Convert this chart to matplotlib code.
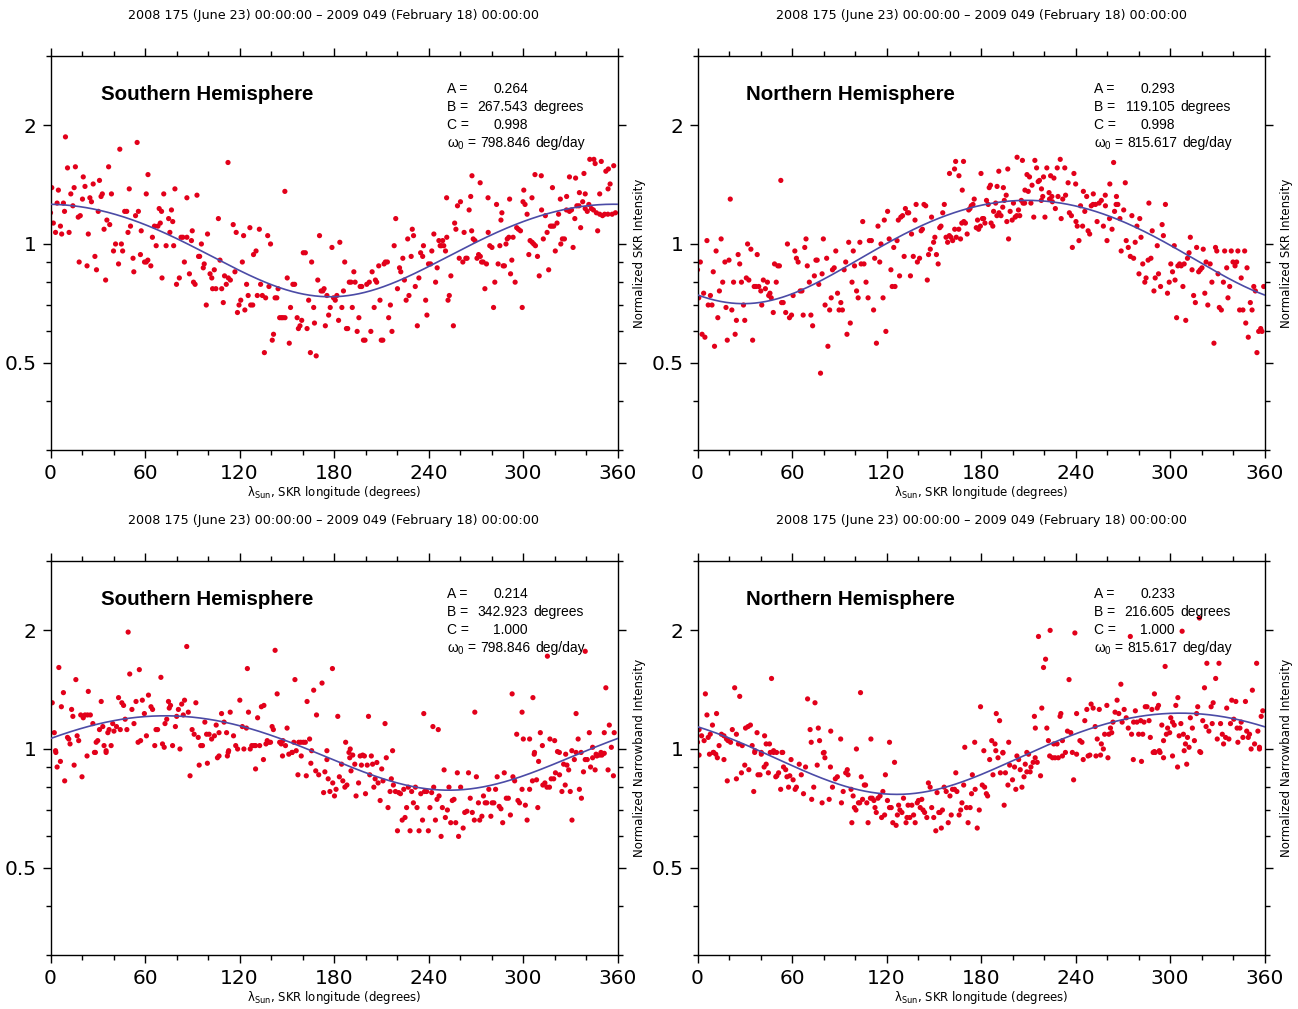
import numpy as np
import matplotlib
matplotlib.use('Agg')
import matplotlib.pyplot as plt
from matplotlib.ticker import NullFormatter

plt.rcParams['font.family'] = ['DejaVu Sans']
plt.rcParams['mathtext.default'] = 'regular'

# time span shown above every panel
period = '2008 175 (June 23) 00:00:00 \u2013 2009 049 (February 18) 00:00:00'
hemispheres = ['Southern Hemisphere', 'Northern Hemisphere',
               'Southern Hemisphere', 'Northern Hemisphere']
ylabels = ['Normalized SKR Intensity', 'Normalized SKR Intensity',
           'Normalized Narrowband Intensity', 'Normalized Narrowband Intensity']
x_ticks = [0, 60, 120, 180, 240, 300, 360]
y_ticks = [0.5, 1, 2]
y_tick_labels = ['0.5', '1', '2']
y_minor = [0.3, 0.4, 0.6, 0.7, 0.8, 0.9, 3]

# fit parameters: I = C * (1 + A sin(lambda - B))
fit_a = [0.264, 0.293, 0.214, 0.233]
fit_b = [267.543, 119.105, 342.923, 216.605]
fit_c = [0.998, 0.998, 1.000, 1.000]
omega0 = [798.846, 815.617, 798.846, 815.617]

# (SKR longitude in degrees, normalized intensity)
skr_south = np.array([
    [9.5, 1.87], [10.8, 1.56], [15.8, 1.57], [0.8, 1.39], [5.0, 1.37], [12.9, 1.34], [15.0, 1.39],
    [20.8, 1.48], [21.9, 1.40], [27.1, 1.42], [31.1, 1.45], [36.9, 1.57], [44.0, 1.74], [55.0, 1.81],
    [32.1, 1.32], [32.9, 1.34], [38.7, 1.34], [50.0, 1.38], [60.8, 1.34], [61.9, 1.50], [71.9, 1.34],
    [79.0, 1.38], [86.6, 1.31], [93.0, 1.33], [112.7, 1.61], [148.8, 1.36], [251.5, 1.31], [266.8, 1.32],
    [267.6, 1.49], [272.8, 1.43], [277.8, 1.31], [300.5, 1.37], [307.6, 1.50], [311.6, 1.49], [318.7, 1.39],
    [329.5, 1.48], [333.4, 1.47], [338.7, 1.51], [342.4, 1.64], [345.0, 1.64], [345.8, 1.60], [349.7, 1.62],
    [352.6, 1.53], [354.2, 1.55], [357.6, 1.58], [355.3, 1.42], [354.0, 1.38], [348.7, 1.34], [335.8, 1.35],
    [339.5, 1.34], [327.7, 1.32], [323.7, 1.30], [305.7, 1.31], [291.5, 1.30], [25.0, 1.31], [20.3, 1.30],
    [0.0, 1.20], [1.8, 1.13], [3.2, 1.07], [4.2, 1.27], [6.3, 1.11], [7.1, 1.06], [8.2, 1.27], [8.9, 1.21],
    [11.8, 1.07], [14.2, 1.25], [17.6, 1.17], [18.9, 1.18], [18.2, 0.90], [23.2, 0.88], [24.0, 1.06],
    [26.0, 1.28], [28.2, 0.93], [29.2, 0.86], [30.3, 1.21], [34.0, 1.09], [35.0, 0.81], [35.8, 1.15],
    [37.6, 1.12], [40.0, 0.96], [41.3, 1.00], [43.2, 0.89], [45.0, 1.00], [45.8, 0.96], [47.1, 1.21],
    [48.4, 1.21], [49.2, 1.07], [50.8, 1.11], [52.4, 0.92], [52.9, 0.85], [54.0, 1.18], [55.8, 1.21],
    [57.6, 1.08], [57.1, 0.94], [59.7, 0.90], [60.8, 0.90], [61.8, 0.91], [63.7, 0.88], [64.7, 1.04],
    [66.0, 1.11], [67.1, 0.99], [68.2, 1.11], [69.0, 1.23], [69.7, 1.13], [70.5, 1.21], [70.8, 0.82],
    [73.4, 0.99], [75.0, 1.16], [75.8, 1.07], [76.8, 1.22], [77.6, 1.14], [78.2, 0.99], [80.0, 0.79],
    [81.8, 0.82], [82.9, 1.04], [84.0, 1.04], [85.0, 0.90], [86.6, 1.04], [88.2, 0.84], [89.5, 1.02],
    [90.0, 1.08], [90.8, 0.80], [91.8, 0.79], [94.0, 0.93], [94.7, 0.93], [95.8, 1.00], [97.0, 0.87],
    [97.6, 0.89], [98.9, 0.70], [99.7, 1.06], [101.3, 0.84], [102.4, 0.82], [102.9, 0.77], [104.0, 0.86],
    [105.0, 0.77], [106.6, 1.16], [107.6, 0.91], [108.7, 0.77], [109.7, 0.71], [110.5, 0.83], [111.6, 0.79],
    [112.9, 0.82], [114.2, 0.81], [116.0, 1.12], [117.1, 0.85], [117.9, 1.07], [118.7, 0.67], [119.7, 0.70],
    [120.8, 0.72], [121.8, 0.90], [122.6, 1.05], [123.4, 0.68], [124.5, 0.79], [125.5, 0.74], [126.6, 1.10],
    [127.1, 0.70], [128.4, 0.70], [128.9, 0.94], [130.5, 0.96], [131.3, 0.74], [132.6, 1.09], [133.4, 0.79],
    [134.5, 0.74], [135.8, 0.53], [136.6, 0.73], [137.9, 1.05], [138.7, 0.78], [139.7, 1.00], [140.8, 0.57],
    [141.6, 0.59], [142.6, 0.73], [143.7, 0.73], [144.5, 0.77], [145.5, 0.65], [146.6, 0.65], [147.6, 0.65],
    [148.9, 0.65], [150.3, 0.82], [151.6, 0.56], [152.4, 0.69], [153.9, 0.79], [155.0, 0.79], [156.6, 0.65],
    [157.4, 0.61], [158.4, 0.62], [159.5, 0.64], [160.5, 0.95], [161.8, 0.95], [162.9, 0.61], [163.9, 0.72],
    [165.0, 0.53], [165.8, 0.90], [167.1, 0.69], [167.6, 0.63], [168.7, 0.52], [169.7, 0.81], [170.8, 1.05],
    [171.8, 0.76], [172.9, 0.76], [173.7, 0.77], [174.5, 0.62], [175.5, 0.74], [176.6, 0.66], [177.6, 0.69],
    [178.7, 0.98], [179.7, 0.73], [180.8, 0.72], [181.8, 0.74], [182.9, 0.64], [183.7, 1.01], [185.0, 0.69],
    [186.0, 0.76], [186.8, 0.90], [187.9, 0.61], [188.7, 0.61], [189.7, 0.80], [190.8, 0.80], [191.6, 0.69],
    [192.6, 0.85], [193.4, 0.80], [194.7, 0.60], [195.8, 0.65], [196.6, 0.78], [197.6, 0.78], [198.7, 0.57],
    [199.7, 0.57], [200.8, 0.79], [202.4, 0.80], [203.4, 0.60], [204.2, 0.85], [205.5, 0.69], [206.3, 0.81],
    [207.1, 0.80], [208.4, 0.88], [209.2, 0.72], [210.0, 0.57], [211.0, 0.57], [211.8, 0.89], [212.6, 0.90],
    [213.9, 0.90], [214.7, 0.65], [215.8, 0.70], [216.8, 0.60], [218.2, 0.99], [219.2, 1.16], [220.3, 0.77],
    [221.6, 0.87], [222.4, 0.85], [223.7, 0.92], [224.7, 0.81], [225.8, 0.72], [226.8, 1.03], [227.6, 0.74],
    [229.0, 0.93], [229.7, 1.09], [230.5, 1.05], [231.6, 0.78], [232.9, 0.62], [233.9, 0.82], [235.0, 0.95],
    [236.3, 0.93], [236.8, 0.99], [238.2, 0.72], [239.0, 0.66], [240.0, 0.89], [241.3, 0.89], [242.1, 0.96],
    [243.4, 1.06], [244.5, 0.80], [245.5, 0.87], [246.6, 1.02], [247.4, 0.99], [248.2, 0.99], [249.0, 1.02],
    [249.7, 0.99], [250.8, 0.96], [251.6, 1.04], [252.4, 0.72], [253.2, 0.74], [254.2, 0.83], [255.8, 0.62],
    [256.6, 1.13], [257.4, 1.09], [258.4, 1.25], [259.5, 0.92], [260.3, 1.28], [261.8, 0.90], [262.6, 1.07],
    [263.7, 0.92], [264.5, 0.92], [265.8, 1.22], [267.4, 1.08], [268.4, 1.03], [269.5, 1.02], [270.8, 0.92],
    [271.8, 0.94], [272.9, 0.93], [273.7, 0.90], [274.7, 0.90], [275.8, 0.77], [276.8, 0.89], [277.9, 1.07],
    [278.9, 0.99], [280.3, 0.98], [281.3, 0.69], [282.1, 0.80], [283.2, 1.26], [284.2, 0.89], [285.3, 0.99],
    [286.0, 1.15], [286.6, 1.20], [287.4, 0.88], [288.2, 0.88], [289.2, 1.00], [290.0, 1.03], [291.0, 1.04],
    [292.1, 0.84], [292.9, 0.91], [293.7, 1.04], [295.0, 0.80], [296.0, 1.10], [297.1, 1.09], [298.4, 1.08],
    [299.5, 0.69], [300.0, 1.28], [301.3, 1.26], [302.6, 1.19], [303.7, 0.94], [304.5, 1.02], [305.8, 1.01],
    [306.8, 1.00], [307.9, 0.99], [309.2, 0.93], [310.3, 0.83], [311.8, 1.22], [312.9, 1.03], [314.2, 1.18],
    [315.3, 1.07], [316.3, 0.86], [317.4, 1.11], [318.4, 1.11], [319.5, 1.11], [320.5, 0.96], [321.6, 1.13],
    [322.6, 1.19], [324.0, 1.00], [325.0, 1.03], [326.3, 1.03], [327.6, 1.22], [329.5, 1.21], [330.8, 1.22],
    [331.8, 0.98], [332.9, 1.16], [334.2, 1.25], [335.5, 1.25], [336.6, 1.10], [337.9, 1.28], [339.5, 1.23],
    [340.8, 1.21], [341.8, 1.26], [343.4, 1.23], [344.7, 1.22], [346.6, 1.20], [347.4, 1.08], [348.7, 1.19],
    [350.5, 1.18], [351.8, 1.19], [353.9, 1.19], [356.6, 1.19], [358.7, 1.20],
])

skr_north = np.array([
    [52.9, 1.45], [160.0, 1.51], [163.2, 1.55], [163.9, 1.62], [166.0, 1.49], [168.9, 1.62], [168.1, 1.37],
    [180.0, 1.51], [185.2, 1.39], [186.0, 1.41], [190.2, 1.40], [191.3, 1.53], [194.2, 1.39], [196.0, 1.33],
    [197.0, 1.55], [202.9, 1.66], [206.3, 1.63], [207.9, 1.37], [209.2, 1.50], [210.0, 1.36], [210.8, 1.48],
    [212.4, 1.41], [214.2, 1.63], [215.3, 1.56], [216.3, 1.44], [217.1, 1.45], [218.4, 1.38], [219.2, 1.32],
    [219.7, 1.48], [221.8, 1.56], [223.2, 1.35], [224.2, 1.49], [225.0, 1.32], [226.3, 1.47], [228.4, 1.56],
    [228.9, 1.32], [230.3, 1.64], [233.2, 1.56], [233.7, 1.33], [235.3, 1.43], [239.0, 1.51], [240.1, 1.42],
    [245.0, 1.36], [247.1, 1.32], [251.3, 1.34], [258.9, 1.33], [261.8, 1.42], [264.2, 1.61], [266.0, 1.32],
    [271.6, 1.43],
    [0.0, 0.86], [0.8, 0.73], [1.8, 0.90], [2.9, 0.59], [3.9, 0.75], [4.7, 0.58], [6.0, 1.02], [6.8, 0.70],
    [8.2, 0.74], [9.2, 0.70], [10.0, 0.85], [10.8, 0.55], [11.8, 0.96], [12.9, 0.65], [13.9, 0.76],
    [15.0, 1.03], [16.0, 0.80], [17.4, 0.90], [18.1, 0.69], [18.9, 0.57], [20.0, 0.91], [20.8, 1.30],
    [21.8, 0.68], [22.9, 0.80], [23.9, 0.59], [24.7, 0.64], [25.8, 0.94], [26.8, 0.89], [27.9, 0.80],
    [29.2, 0.70], [30.0, 0.64], [31.0, 0.82], [31.8, 1.00], [32.6, 0.81], [33.9, 0.97], [35.0, 0.57],
    [36.0, 0.78], [37.1, 0.78], [37.9, 0.94], [38.9, 0.78], [40.2, 0.76], [40.8, 0.70], [41.8, 0.81],
    [43.1, 0.77], [44.4, 0.80], [45.2, 0.74], [46.0, 0.75], [46.8, 0.73], [48.1, 0.67], [48.9, 0.89],
    [50.0, 0.80], [51.0, 0.88], [52.0, 0.88], [53.4, 0.71], [54.4, 0.71], [56.0, 0.67], [57.1, 1.00],
    [58.4, 0.65], [59.7, 0.66], [60.7, 0.74], [61.8, 0.96], [62.8, 0.92], [63.9, 0.90], [65.2, 0.76],
    [66.3, 0.76], [67.1, 0.66], [68.1, 0.98], [68.9, 1.03], [69.7, 0.88], [71.0, 0.80], [72.0, 0.66],
    [73.1, 0.62], [74.2, 0.83], [75.2, 0.91], [76.0, 0.91], [77.0, 0.79], [78.1, 0.47], [79.1, 0.84],
    [79.9, 1.03], [81.0, 0.70], [82.0, 0.92], [82.8, 0.55], [83.9, 0.68], [84.9, 0.73], [85.7, 0.86],
    [86.8, 0.87], [87.8, 0.96], [88.9, 0.75], [89.9, 0.68], [91.0, 0.71], [92.0, 0.68], [93.1, 0.86],
    [94.1, 0.90], [94.9, 0.59], [96.0, 1.01], [97.0, 0.63], [98.1, 0.80], [98.9, 0.96], [99.7, 0.88],
    [101.0, 0.76], [102.0, 0.73], [103.1, 1.01], [103.9, 0.89], [104.9, 1.14], [105.7, 0.89], [107.0, 0.80],
    [108.3, 0.73], [109.1, 1.02], [110.4, 1.02], [111.8, 0.68], [112.5, 0.92], [113.6, 0.56], [114.6, 1.11],
    [115.7, 0.90], [116.5, 1.00], [117.8, 0.73], [118.6, 1.15], [119.6, 0.60], [120.7, 1.21], [121.7, 1.03],
    [122.8, 0.86], [123.6, 0.78], [124.6, 0.98], [125.4, 0.78], [126.7, 1.02], [127.5, 1.15], [128.3, 0.83],
    [129.1, 1.17], [130.2, 1.18], [131.2, 0.93], [132.0, 1.23], [133.3, 1.20], [134.1, 1.20], [135.2, 0.83],
    [135.9, 1.06], [137.0, 0.93], [138.1, 1.15], [138.8, 1.26], [139.6, 0.90], [141.0, 0.92], [142.0, 1.08],
    [142.8, 1.09], [143.8, 1.26], [144.9, 1.25], [145.9, 0.81], [146.7, 0.94], [147.8, 0.97], [148.6, 1.17],
    [149.9, 1.01], [150.7, 1.04], [151.7, 0.94], [152.8, 0.89], [153.8, 1.10], [154.6, 1.11], [155.7, 1.20],
    [156.7, 1.26], [157.8, 1.04], [158.8, 1.01], [159.9, 1.05], [160.9, 1.04], [162.0, 1.02], [163.3, 1.09],
    [164.3, 1.04], [165.9, 1.09], [167.0, 1.03], [167.8, 1.13], [169.1, 1.14], [170.1, 1.13], [171.2, 1.06],
    [172.2, 1.22], [173.0, 1.23], [173.8, 1.25], [174.9, 1.26], [175.7, 1.30], [177.0, 1.10], [177.8, 1.15],
    [178.5, 1.09], [179.6, 1.11], [180.9, 1.16], [181.7, 1.16], [182.5, 1.13], [183.5, 1.29], [184.6, 1.26],
    [186.4, 1.13], [187.5, 1.11], [188.0, 1.21], [189.3, 1.27], [190.1, 1.18], [191.4, 1.20], [192.7, 1.18],
    [193.8, 1.24], [194.8, 1.29], [196.4, 1.14], [197.5, 1.03], [198.5, 1.21], [199.8, 1.15], [200.6, 1.27],
    [201.7, 1.17], [202.7, 1.18], [203.8, 1.22], [204.6, 1.18], [205.6, 1.29], [206.7, 1.27], [207.7, 1.27],
    [211.7, 1.27], [213.5, 1.17], [218.3, 1.29], [220.6, 1.17], [223.5, 1.30], [225.3, 1.28], [227.2, 1.23],
    [230.9, 1.16], [231.9, 1.30], [236.1, 1.20], [237.4, 1.18], [238.0, 0.98], [240.3, 1.14], [241.1, 1.11],
    [242.2, 1.02], [243.2, 1.25], [244.5, 1.11], [245.9, 1.21], [248.0, 1.08], [249.0, 1.06], [250.0, 1.25],
    [251.1, 1.26], [252.7, 1.26], [253.7, 1.14], [255.0, 1.27], [256.4, 1.29], [257.7, 1.11], [259.0, 1.25],
    [260.0, 1.02], [261.6, 1.16], [263.2, 1.09], [264.8, 1.21], [265.8, 1.26], [266.9, 1.26], [268.2, 1.16],
    [269.0, 0.96], [270.6, 1.22], [272.2, 1.02], [273.5, 0.98], [274.8, 0.93], [275.8, 1.18], [276.9, 0.92],
    [277.9, 1.01], [279.0, 1.11], [280.3, 0.84], [280.8, 1.16], [281.6, 1.04], [282.7, 0.89], [284.0, 0.80],
    [284.8, 0.82], [286.1, 0.91], [286.6, 1.27], [287.9, 0.92], [288.7, 1.08], [289.8, 0.76], [290.6, 0.82],
    [291.9, 0.99], [292.7, 0.84], [294.0, 0.78], [295.0, 1.12], [295.8, 1.05], [297.1, 1.26], [298.4, 0.75],
    [299.5, 0.80], [300.5, 0.89], [301.6, 0.85], [302.7, 0.99], [303.2, 0.81], [304.2, 0.65], [305.0, 0.88],
    [306.1, 0.89], [307.1, 0.88], [308.2, 0.78], [309.0, 0.89], [310.0, 0.64], [311.1, 0.92], [312.1, 0.95],
    [312.9, 1.04], [314.0, 0.86], [315.0, 0.74], [316.1, 0.71], [316.9, 0.98], [318.2, 0.85], [319.2, 0.86],
    [320.3, 0.87], [321.1, 0.97], [322.1, 0.75], [322.9, 0.90], [324.0, 0.70], [325.5, 0.89], [326.6, 0.80],
    [327.9, 0.56], [328.9, 0.98], [329.7, 0.96], [330.5, 0.84], [331.3, 0.69], [332.6, 0.68], [333.9, 0.80],
    [334.7, 0.96], [336.0, 0.87], [336.8, 0.73], [337.9, 0.78], [338.9, 0.96], [340.0, 0.90], [341.3, 0.88],
    [342.3, 0.90], [343.1, 0.96], [344.2, 0.68], [345.2, 0.82], [346.3, 0.68], [347.4, 0.96], [348.1, 0.63],
    [348.9, 0.87], [349.7, 0.58], [351.0, 0.71], [352.1, 0.68], [353.2, 0.78], [354.2, 0.76], [355.2, 0.53],
    [356.3, 0.60], [357.6, 0.61], [358.4, 0.60], [359.5, 0.78],
])

nb_south = np.array([
    [1.1, 1.31], [2.4, 1.10], [3.4, 0.98], [5.3, 1.61], [6.9, 1.28], [8.2, 1.39], [10.8, 1.07], [11.6, 1.06],
    [12.4, 1.03], [13.4, 1.26], [14.2, 1.21], [16.1, 1.50], [16.9, 1.08], [17.9, 1.05], [19.2, 1.22],
    [20.8, 1.20], [21.9, 1.22], [23.5, 1.22], [24.0, 1.40], [25.3, 1.22], [26.9, 1.16], [27.9, 0.98],
    [29.0, 1.04], [30.0, 1.05], [31.1, 1.12], [32.2, 1.32], [33.2, 1.14], [34.0, 1.02], [35.3, 0.98],
    [36.4, 1.10], [37.2, 1.12], [38.5, 1.02], [39.5, 1.16], [40.3, 1.11], [41.9, 1.14], [43.2, 1.35],
    [44.3, 1.12], [45.3, 1.31], [46.4, 1.29], [47.4, 1.19], [48.5, 1.12], [49.3, 1.98], [50.3, 1.55],
    [51.7, 1.26], [53.0, 1.16], [54.3, 1.32], [55.6, 1.04], [56.4, 1.59], [57.2, 1.05], [58.3, 1.33],
    [59.6, 1.23], [60.9, 1.08], [62.2, 1.37], [63.8, 1.28], [64.8, 1.26], [66.2, 1.02], [67.0, 1.12],
    [68.0, 1.12], [70.1, 1.52], [71.1, 1.03], [72.2, 1.01], [72.7, 1.16], [73.8, 1.19], [74.9, 1.32],
    [75.4, 1.27], [76.2, 1.29], [77.5, 1.02], [79.3, 1.14], [80.1, 1.21], [81.2, 1.26], [82.2, 1.00],
    [83.3, 1.30], [84.3, 1.22], [85.1, 1.33], [86.5, 1.82], [87.5, 1.24], [89.9, 1.12], [91.2, 1.09],
    [92.3, 1.31], [93.8, 1.07], [95.4, 1.02], [96.5, 1.02], [98.0, 1.17], [99.1, 1.09], [100.7, 1.09],
    [102.3, 1.06], [104.1, 1.08], [105.2, 1.15], [107.0, 1.10], [108.6, 1.23], [110.2, 1.17], [111.8, 1.10],
    [112.8, 0.98], [114.1, 1.24], [116.2, 1.08], [117.6, 1.02], [118.8, 1.00], [120.2, 1.33], [121.8, 1.14],
    [122.8, 1.00], [124.4, 1.13], [125.0, 1.60], [125.7, 1.24], [126.8, 1.00], [127.8, 1.02], [129.2, 1.02],
    [130.2, 1.02], [131.5, 1.20], [132.8, 1.02], [133.9, 1.28], [135.5, 1.29], [136.8, 1.03], [137.6, 1.05],
    [138.6, 1.04], [139.7, 1.04], [140.7, 1.14], [141.5, 1.12], [142.6, 1.78], [143.9, 1.38], [145.5, 1.04],
    [146.5, 1.03], [147.6, 1.05], [149.2, 1.02], [150.2, 1.13], [153.4, 0.98], [154.5, 1.04], [155.2, 1.50],
    [156.0, 0.99], [157.6, 1.04], [158.9, 1.04], [160.5, 1.04], [161.8, 1.04], [162.9, 1.32], [164.5, 1.06],
    [165.8, 0.99], [167.1, 1.41], [168.9, 1.22], [172.4, 1.47], [175.5, 0.99], [179.0, 1.60], [182.4, 1.21],
    [187.4, 1.04], [190.3, 1.00], [201.9, 1.21], [212.4, 1.16], [217.2, 0.99], [237.0, 1.23], [242.8, 1.14],
    [246.2, 1.12], [269.4, 1.24], [293.1, 1.38], [296.0, 1.09], [299.4, 1.24], [300.2, 1.06], [304.2, 1.06],
    [306.3, 1.35], [307.1, 0.97], [311.0, 1.10], [312.3, 1.02], [315.5, 1.72], [317.1, 1.06], [320.1, 1.05],
    [323.1, 0.98], [327.1, 0.97], [331.0, 0.99], [333.7, 1.23], [335.0, 1.06], [336.9, 0.98], [339.5, 1.77],
    [342.1, 1.10], [344.2, 1.01], [346.4, 0.97], [349.5, 0.98], [351.6, 1.10], [352.6, 1.43], [354.8, 1.15],
    [356.1, 1.01], [357.9, 1.10],
    [3.2, 0.99], [4.2, 0.90], [6.3, 0.93], [9.0, 0.83], [15.0, 0.91], [20.0, 0.85], [23.2, 0.96],
    [28.5, 0.98], [35.3, 0.99], [88.6, 0.855], [94.4, 0.91], [99.6, 0.92], [106.0, 0.95], [107.0, 0.96],
    [112.3, 0.96], [113.1, 0.99], [130.2, 0.89], [135.2, 0.94], [147.3, 0.96], [151.3, 0.97], [153.4, 0.98],
    [157.1, 0.86], [159.2, 0.96], [162.4, 0.855], [165.3, 0.92], [168.4, 0.88], [170.3, 0.86], [173.4, 0.775],
    [174.2, 0.875], [175.5, 0.94], [176.3, 0.84], [177.4, 0.78], [179.2, 0.82], [180.3, 0.76], [181.3, 0.79],
    [183.4, 0.85], [184.8, 0.915], [185.6, 0.83], [186.9, 0.80], [188.2, 0.81], [189.5, 0.98], [190.0, 0.95],
    [190.8, 0.88], [191.9, 0.965], [193.2, 0.915], [194.0, 0.76], [195.6, 0.82], [196.6, 0.96], [197.4, 0.91],
    [198.2, 0.965], [199.3, 0.96], [200.0, 0.77], [201.1, 0.91], [202.7, 0.86], [203.7, 0.96], [204.5, 0.915],
    [205.3, 0.80], [206.1, 0.84], [207.2, 0.924], [208.0, 0.82], [209.3, 0.74], [210.3, 0.89], [211.1, 0.83],
    [213.2, 0.95], [214.3, 0.71], [215.6, 0.78], [216.4, 0.84], [217.7, 0.81], [219.0, 0.78], [220.3, 0.62],
    [221.1, 0.775], [222.2, 0.77], [223.3, 0.66], [224.3, 0.79], [225.1, 0.67], [226.1, 0.71], [227.2, 0.80],
    [228.3, 0.62], [229.3, 0.78], [230.4, 0.73], [231.7, 0.80], [232.7, 0.71], [234.0, 0.62], [235.1, 0.77],
    [236.2, 0.66], [237.5, 0.78], [238.8, 0.78], [239.9, 0.62], [240.9, 0.71], [242.0, 0.775], [243.3, 0.80],
    [244.4, 0.66], [245.4, 0.745], [246.7, 0.76], [248.0, 0.60], [248.8, 0.71], [249.9, 0.885], [250.7, 0.67],
    [252.0, 0.70], [253.0, 0.80], [254.1, 0.65], [255.1, 0.74], [256.2, 0.745], [257.3, 0.65], [258.3, 0.87],
    [259.1, 0.60], [260.4, 0.80], [262.0, 0.63], [263.0, 0.69], [264.4, 0.695], [265.4, 0.87], [266.5, 0.75],
    [267.8, 0.69], [269.1, 0.66], [270.4, 0.85], [271.7, 0.73], [272.5, 0.66], [273.9, 0.675], [274.9, 0.76],
    [276.0, 0.73], [277.0, 0.73], [278.3, 0.79], [279.6, 0.675], [280.4, 0.73], [281.5, 0.73], [282.6, 0.79],
    [283.6, 0.85], [284.9, 0.715], [286.0, 0.705], [287.1, 0.65], [288.1, 0.87], [289.4, 0.75], [290.7, 0.75],
    [292.0, 0.68], [293.6, 0.85], [294.7, 0.83], [296.8, 0.74], [297.8, 0.73], [299.4, 0.79], [301.5, 0.72],
    [302.6, 0.66], [304.2, 0.79], [306.0, 0.83], [307.3, 0.98], [308.6, 0.835], [309.4, 0.71], [309.9, 0.93],
    [312.6, 0.81], [313.9, 0.82], [315.2, 0.80], [316.8, 0.80], [317.9, 0.84], [319.5, 0.84], [320.6, 0.87],
    [321.9, 0.985], [323.2, 0.86], [324.7, 0.78], [325.8, 0.915], [326.8, 0.81], [327.9, 0.91], [329.0, 0.885],
    [330.0, 0.78], [331.1, 0.66], [332.6, 0.94], [333.7, 0.98], [335.8, 0.79], [337.1, 0.75], [338.4, 0.875],
    [339.5, 0.94], [340.8, 0.94], [342.9, 0.90], [344.2, 0.95], [345.8, 0.885], [346.9, 0.96], [348.7, 0.965],
    [350.1, 0.965], [351.6, 0.975], [354.0, 0.885], [357.4, 0.855],
])

nb_north = np.array([
    [0.0, 1.04], [1.0, 1.12], [2.6, 1.08], [4.2, 1.05], [5.0, 1.38], [6.0, 1.22], [6.8, 1.07], [8.1, 1.09],
    [9.5, 1.15], [10.2, 0.98], [11.6, 0.97], [12.1, 1.23], [13.7, 1.02], [15.2, 1.09], [16.8, 1.08],
    [18.4, 1.06], [19.4, 1.05], [21.0, 1.04], [22.1, 1.12], [23.6, 1.43], [24.7, 1.09], [26.0, 1.03],
    [26.8, 1.36], [28.4, 1.02], [30.5, 1.13], [32.1, 1.14], [33.6, 1.15], [34.7, 1.02], [36.3, 0.98],
    [37.8, 1.10], [40.5, 0.98], [42.6, 1.08], [43.6, 1.03], [45.7, 1.03], [47.0, 1.51], [48.3, 0.98],
    [50.2, 0.98], [53.6, 0.98], [69.9, 1.34], [71.5, 1.12], [72.2, 1.04], [74.6, 1.31], [76.7, 1.13],
    [77.5, 1.05], [80.4, 0.98], [84.6, 1.11], [90.9, 1.06], [100.9, 1.00], [103.5, 1.39], [110.1, 1.06],
    [121.9, 1.04], [169.7, 1.01], [176.0, 1.04], [179.7, 1.28], [181.8, 0.99], [186.8, 1.05], [188.9, 1.03],
    [189.7, 1.23], [191.8, 1.18], [193.9, 0.98], [197.6, 1.04], [209.1, 0.98], [213.9, 1.21], [214.5, 1.13],
    [216.5, 1.93], [218.6, 1.27], [219.7, 1.61], [221.0, 1.69], [221.8, 1.13], [222.8, 1.05], [223.9, 2.00],
    [226.2, 1.03], [228.3, 1.03], [230.2, 1.21], [230.7, 1.23], [231.7, 1.05], [234.9, 1.11], [235.9, 1.50],
    [237.0, 1.10], [238.0, 0.98], [239.6, 1.97], [240.7, 1.23], [242.8, 1.05], [244.1, 1.04], [245.9, 1.18],
    [247.2, 1.26], [249.9, 1.30], [251.2, 1.27], [252.5, 1.14], [253.8, 1.06], [255.1, 1.26], [256.4, 1.03],
    [257.7, 1.00], [258.5, 1.09], [259.9, 1.29], [261.2, 1.09], [262.2, 1.13], [263.0, 1.10], [263.8, 1.17],
    [265.1, 1.24], [266.4, 1.33], [267.5, 1.23], [268.8, 1.46], [269.6, 1.17], [270.9, 1.26], [272.2, 1.20],
    [273.5, 1.13], [274.8, 1.93], [275.6, 1.09], [276.9, 1.17], [278.0, 1.25], [279.0, 1.17], [280.1, 1.09],
    [281.4, 1.18], [282.7, 1.09], [283.5, 1.17], [284.3, 1.28], [285.4, 1.28], [286.7, 1.18], [287.5, 1.07],
    [288.5, 1.26], [289.3, 0.98], [290.1, 1.38], [290.6, 0.98], [291.9, 1.27], [292.7, 1.29], [293.7, 0.98],
    [294.8, 1.15], [295.9, 1.05], [296.9, 1.62], [297.7, 1.09], [298.5, 1.13], [299.8, 1.10], [300.5, 1.20],
    [301.6, 1.17], [302.7, 1.15], [303.7, 1.29], [305.0, 1.35], [305.8, 1.08], [306.9, 1.16], [307.7, 1.99],
    [308.5, 1.09], [309.0, 0.99], [309.8, 1.03], [311.1, 1.07], [312.1, 1.01], [312.9, 1.20], [314.2, 1.13],
    [315.5, 1.05], [316.9, 1.23], [317.6, 1.28], [318.7, 2.15], [319.5, 0.98], [320.8, 1.18], [321.9, 1.43],
    [322.9, 1.14], [323.4, 1.65], [324.7, 1.11], [326.1, 1.28], [326.8, 1.16], [327.4, 1.31], [329.0, 1.51],
    [330.0, 1.06], [331.1, 1.65], [332.1, 1.16], [333.2, 1.09], [334.0, 1.03], [335.3, 1.07], [336.0, 1.27],
    [337.4, 1.06], [338.4, 1.16], [339.2, 1.33], [340.5, 1.19], [341.8, 1.32], [342.6, 1.13], [343.1, 1.04],
    [344.4, 1.13], [345.2, 1.17], [346.3, 1.07], [347.9, 1.32], [348.7, 1.11], [349.7, 1.07], [350.5, 1.09],
    [352.3, 1.41], [353.7, 1.03], [355.0, 1.65], [355.8, 1.11], [356.8, 1.01], [357.9, 1.21], [358.9, 1.25],
    [1.0, 0.965], [7.6, 0.97], [10.0, 0.98], [12.6, 0.95], [16.8, 0.94], [18.9, 0.83], [24.7, 0.84],
    [27.9, 0.87], [30.0, 0.91], [32.6, 0.886], [35.7, 0.78], [36.5, 0.99], [38.4, 0.86], [39.7, 0.86],
    [40.5, 0.97], [42.3, 0.90], [43.6, 0.915], [45.0, 0.87], [46.2, 0.98], [48.3, 0.99], [49.7, 0.85],
    [50.4, 0.855], [51.5, 0.87], [52.8, 0.79], [54.1, 0.98], [54.6, 0.90], [56.0, 0.886], [56.8, 0.85],
    [57.8, 0.80], [58.6, 0.855], [59.4, 0.94], [60.7, 0.835], [62.0, 0.79], [62.8, 0.80], [64.6, 0.915],
    [65.9, 0.86], [67.3, 0.77], [68.6, 0.90], [72.5, 0.745], [73.8, 0.80], [76.0, 0.91], [79.1, 0.73],
    [79.9, 0.977], [80.9, 0.95], [83.6, 0.745], [84.4, 0.90], [85.7, 0.80], [87.5, 0.84], [88.8, 0.85],
    [91.4, 0.73], [92.5, 0.78], [94.1, 0.87], [95.1, 0.886], [95.6, 0.86], [97.5, 0.79], [98.0, 0.65],
    [98.8, 0.76], [99.6, 0.71], [100.6, 0.70], [102.2, 0.73], [103.0, 0.73], [104.0, 0.85], [104.8, 0.745],
    [105.9, 0.81], [106.7, 0.81], [107.5, 0.73], [108.3, 0.65], [109.8, 0.75], [110.9, 0.75], [112.0, 0.74],
    [112.7, 0.71], [113.5, 0.69], [114.6, 0.75], [115.9, 0.76], [116.9, 0.67], [117.7, 0.78], [118.8, 0.68],
    [119.3, 0.86], [120.6, 0.74], [121.9, 0.71], [123.0, 0.71], [124.0, 0.65], [125.1, 0.925], [126.1, 0.64],
    [126.9, 0.68], [127.7, 0.72], [128.5, 0.70], [129.8, 0.69], [130.8, 0.75], [132.4, 0.65], [133.0, 0.67],
    [133.7, 0.72], [134.8, 0.67], [136.1, 0.72], [137.2, 0.68], [138.2, 0.65], [139.5, 0.73], [140.3, 0.74],
    [141.4, 0.71], [142.4, 0.745], [143.2, 0.70], [144.2, 0.69], [145.6, 0.67], [146.6, 0.82], [147.7, 0.80],
    [148.7, 0.71], [150.0, 0.67], [151.3, 0.62], [152.1, 0.775], [153.2, 0.69], [154.0, 0.69], [154.8, 0.63],
    [155.5, 0.70], [156.6, 0.80], [157.9, 0.78], [159.2, 0.65], [160.3, 0.76], [161.1, 0.68], [161.9, 0.79],
    [163.2, 0.79], [164.0, 0.87], [164.7, 0.78], [166.1, 0.68], [167.1, 0.70], [167.9, 0.73], [169.0, 0.81],
    [170.8, 0.71], [171.8, 0.65], [173.1, 0.71], [174.0, 0.77], [174.5, 0.86], [176.3, 0.79], [177.6, 0.63],
    [178.9, 0.70], [180.8, 0.81], [182.3, 0.80], [183.4, 0.77], [184.2, 0.76], [185.5, 0.94], [187.6, 0.86],
    [189.4, 0.99], [190.8, 0.95], [192.3, 0.87], [193.9, 0.977], [194.7, 0.72], [195.5, 0.87], [197.1, 0.81],
    [198.2, 0.91], [200.0, 0.835], [201.3, 0.90], [202.1, 0.79], [202.8, 0.96], [203.9, 0.94], [204.9, 0.886],
    [206.0, 0.80], [207.3, 0.85], [208.1, 0.915], [209.1, 0.875], [210.2, 0.97], [211.2, 0.875], [211.7, 0.90],
    [213.1, 0.925], [214.4, 0.95], [215.7, 0.925], [217.8, 0.855], [223.6, 0.96], [225.4, 0.95], [227.0, 0.95],
    [229.1, 0.95], [231.7, 0.96], [233.6, 0.98], [238.8, 0.835], [240.7, 0.97], [244.9, 0.94], [248.0, 0.96],
    [249.1, 0.965], [253.0, 0.96], [255.9, 0.965], [260.6, 0.95], [276.7, 0.94], [281.9, 0.93], [290.1, 0.985],
    [293.2, 0.99], [295.9, 0.95], [301.6, 0.96], [304.8, 0.90], [310.6, 0.915], [318.9, 0.985], [351.5, 1.00],
    [356.8, 1.00],
])

panels = [skr_south, skr_north, nb_south, nb_north]

fig = plt.figure(figsize=(12.98, 10.09), dpi=100)
W, H = 1298.0, 1009.0
# plot frames in pixels: left, top, right, bottom
frames = [(50.5, 56, 617.5, 450), (697.5, 56, 1264.5, 450),
          (50.5, 561, 617.5, 955), (697.5, 561, 1264.5, 955)]

lam = np.linspace(0, 360, 721)

for i, (l, t, r, b) in enumerate(frames):
    ax = fig.add_axes([l / W, 1 - b / H, (r - l) / W, (b - t) / H])
    pts = panels[i]
    ax.scatter(pts[:, 0], pts[:, 1], s=14, color='#e2001a', edgecolors='none', zorder=2)
    fit = fit_c[i] * (1 + fit_a[i] * np.sin(np.radians(lam - fit_b[i])))
    ax.plot(lam, fit, color='#4b4ba6', lw=1.2, zorder=3)

    ax.set_yscale('log')
    ax.set_xlim(0, 360)
    ax.set_ylim(0.3, 3)
    ax.set_xticks(x_ticks)
    ax.set_xticks(np.arange(0, 361, 20), minor=True)
    ax.set_yticks(y_ticks, labels=y_tick_labels)
    ax.set_yticks(y_minor, minor=True)
    ax.yaxis.set_minor_formatter(NullFormatter())
    ax.tick_params(which='both', direction='out', top=True, right=True, width=1,
                   labelsize=14.5, pad=4)
    ax.tick_params(which='major', length=6)
    ax.tick_params(which='minor', length=3.5)
    for sp in ax.spines.values():
        sp.set_linewidth(1)

    ax.set_xlabel(r'$\lambda_{Sun}$, SKR longitude (degrees)', fontsize=8.5, labelpad=1)
    ax.yaxis.set_label_position('right')
    ax.set_ylabel(ylabels[i], fontsize=8.5, labelpad=5)

    ax.text(0.5, 1.104, period, transform=ax.transAxes, ha='center', va='center', fontsize=9.2)
    ax.text(0.089 if i % 2 == 0 else 0.0855, 0.903, hemispheres[i], transform=ax.transAxes,
            ha='left', va='center', fontsize=14.8, fontweight='bold', family='Liberation Sans')

    # fit parameter block, rows share a common baseline per line
    rows = [('A =', '%.3f' % fit_a[i], '', 0.842),
            ('B =', '%.3f' % fit_b[i], 'degrees', 0.842),
            ('C =', '%.3f' % fit_c[i], '', 0.842),
            ('\u03c9$_0$ =', '%.3f' % omega0[i], 'deg/day', 0.847)]
    row_base = [0.905, 0.860, 0.814, 0.768]
    for (lab, val, unit, xr), yy in zip(rows, row_base):
        ax.text(0.699, yy, lab, transform=ax.transAxes, ha='left', va='baseline',
                fontsize=10, family='Liberation Sans')
        ax.text(xr, yy, val, transform=ax.transAxes, ha='right', va='baseline',
                fontsize=10, family='Liberation Sans')
        if unit:
            ax.text(xr + 0.009, yy, unit, transform=ax.transAxes, ha='left', va='baseline',
                    fontsize=10, family='Liberation Sans')

fig.savefig('out.png', dpi=100)
